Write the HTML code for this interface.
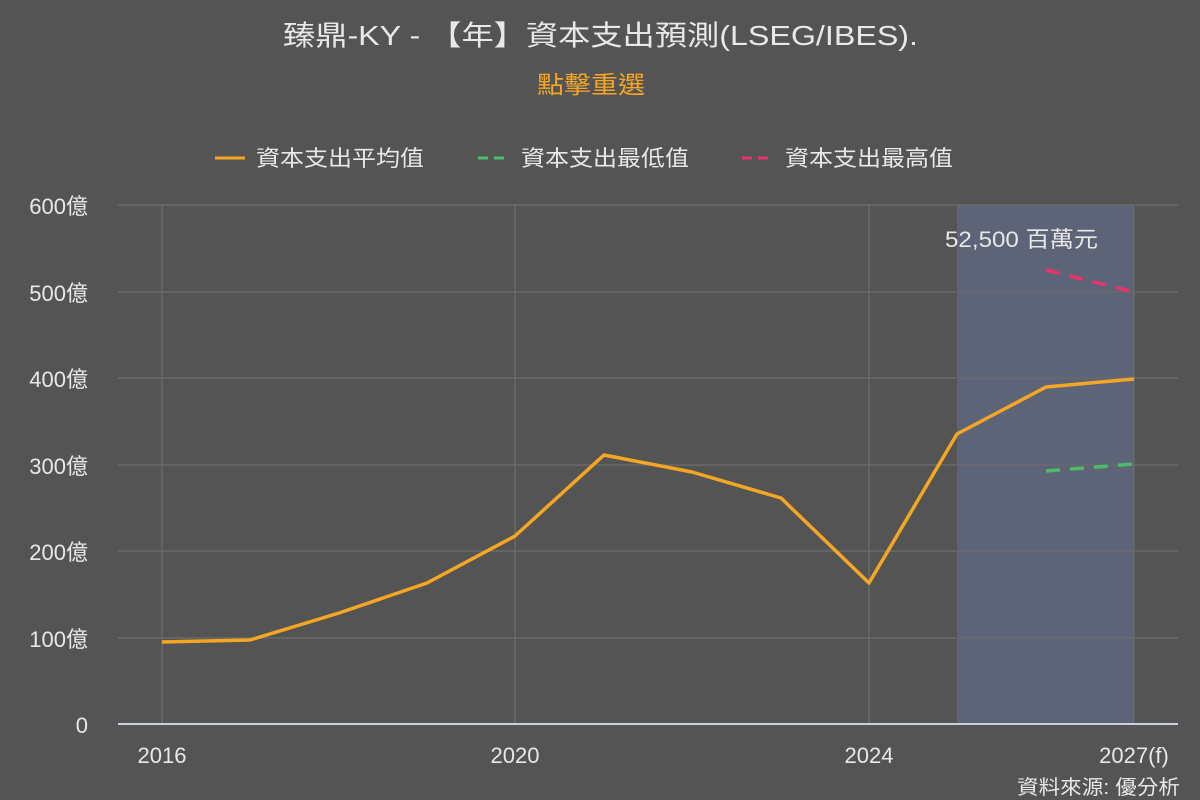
<!DOCTYPE html>
<html><head><meta charset="utf-8"><style>
body{margin:0;background:#545454;}
svg{display:block;font-family:"Liberation Sans","Noto Sans CJK TC",sans-serif;}
</style></head><body>
<svg width="1200" height="800" viewBox="0 0 1200 800">
<rect width="1200" height="800" fill="#545454"/>
<text x="283" y="45" font-size="28" fill="#e8e8e8" textLength="635" lengthAdjust="spacingAndGlyphs">臻鼎-KY - 【年】資本支出預測(LSEG/IBES).</text>
<text x="537" y="93" font-size="24" fill="#f5a623" textLength="108" lengthAdjust="spacingAndGlyphs">點擊重選</text>
<line x1="215" y1="158" x2="245" y2="158" stroke="#f5a623" stroke-width="3"/>
<text x="256" y="166" font-size="22" fill="#e8e8e8" textLength="168" lengthAdjust="spacingAndGlyphs">資本支出平均值</text>
<line x1="478" y1="158" x2="510" y2="158" stroke="#4cbb6c" stroke-width="3" stroke-dasharray="10,6"/>
<text x="521" y="166" font-size="22" fill="#e8e8e8" textLength="168" lengthAdjust="spacingAndGlyphs">資本支出最低值</text>
<line x1="742" y1="158" x2="774" y2="158" stroke="#e8336d" stroke-width="3" stroke-dasharray="10,6"/>
<text x="785" y="166" font-size="22" fill="#e8e8e8" textLength="168" lengthAdjust="spacingAndGlyphs">資本支出最高值</text>
<rect x="957" y="205" width="177" height="519" fill="#5d6478"/>
<g stroke="#6a6a6a" stroke-width="1.5">
<line x1="118" y1="205" x2="1178" y2="205"/><line x1="118" y1="292" x2="1178" y2="292"/>
<line x1="118" y1="378" x2="1178" y2="378"/><line x1="118" y1="465" x2="1178" y2="465"/>
<line x1="118" y1="551" x2="1178" y2="551"/><line x1="118" y1="638" x2="1178" y2="638"/>
<line x1="162" y1="205" x2="162" y2="724"/><line x1="515" y1="205" x2="515" y2="724"/>
<line x1="869" y1="205" x2="869" y2="724"/><line x1="1134" y1="205" x2="1134" y2="724"/>
</g>
<line x1="118" y1="724" x2="1178" y2="724" stroke="#c8d0e0" stroke-width="2"/>
<g font-size="22" fill="#e8e8e8" text-anchor="end">
<text x="88" y="214">600億</text><text x="88" y="301">500億</text><text x="88" y="387">400億</text>
<text x="88" y="474">300億</text><text x="88" y="560">200億</text><text x="88" y="647">100億</text><text x="88" y="733">0</text>
</g>
<g font-size="22" fill="#e8e8e8" text-anchor="middle">
<text x="162" y="763">2016</text><text x="515" y="763">2020</text><text x="869" y="763">2024</text><text x="1134" y="763">2027(f)</text>
</g>
<text x="1017" y="794" font-size="20" fill="#e8e8e8" textLength="163" lengthAdjust="spacingAndGlyphs">資料來源: 優分析</text>
<text x="945" y="247" font-size="22" fill="#e8e8e8" textLength="153" lengthAdjust="spacingAndGlyphs">52,500 百萬元</text>
<polyline fill="none" stroke="#f5a623" stroke-width="3.5" stroke-linejoin="round" points="162,642 250,640 339,613 427,583 515,536 604,455 692,472 781,498 869,583 957,434 1046,387 1134,379"/>
<line x1="1046" y1="270" x2="1134" y2="292" stroke="#e8336d" stroke-width="3.5" stroke-dasharray="14,10"/>
<line x1="1046" y1="471" x2="1134" y2="464" stroke="#4cbb6c" stroke-width="3.5" stroke-dasharray="14,10"/>
</svg>
</body></html>
